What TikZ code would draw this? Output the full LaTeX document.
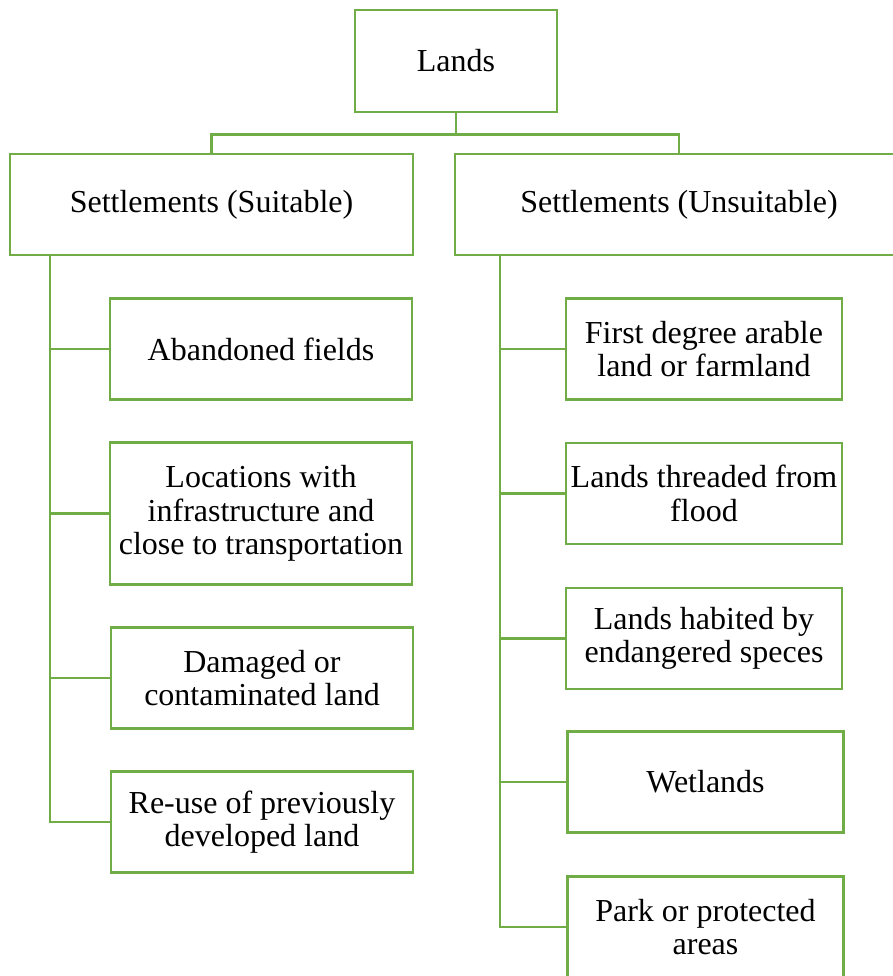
\documentclass[tikz,border=0pt]{standalone}
\usepackage{fontspec}
\setmainfont{Liberation Serif}
\definecolor{leafgreen}{HTML}{70AD47}
\tikzset{
  box/.style={draw=leafgreen,line width=2pt,fill=white,align=center,
    inner sep=0pt,font=\fontsize{24}{25}\selectfont},
  link/.style={draw=leafgreen,line width=2pt}
}
\begin{document}
\begin{tikzpicture}[x=0.75pt,y=-0.75pt]
  \useasboundingbox (0,0) rectangle (893,976);
  \clip (0,0) rectangle (893,976);

  % Top and the two groups
  \node[box,minimum width=151.5pt,minimum height=76.5pt] (lands) at (456,61) {Lands};
  \node[box,minimum width=302.25pt,minimum height=75.75pt] (suit) at (211.5,204.5) {\raisebox{-2pt}{Settlements (Suitable)}};
  \node[box,minimum width=336pt,minimum height=75.75pt] (unsuit) at (679,204.5) {\raisebox{-2pt}{Settlements (Unsuitable)}};

  % Suitable lands
  \node[box,minimum width=226.5pt,minimum height=75.75pt] (aband) at (261,349) {Abandoned fields};
  \node[box,minimum width=226.5pt,minimum height=106.5pt] (infra) at (261,513.5) {Locations with\\infrastructure and\\close to transportation};
  \node[box,minimum width=226.5pt,minimum height=75.75pt] (damaged) at (262,678) {Damaged or\\contaminated land};
  \node[box,minimum width=226.5pt,minimum height=75.75pt] (reuse) at (262,822) {Re-use of previously\\developed land};

  % Unsuitable lands
  \node[box,minimum width=207pt,minimum height=75.75pt] (arable) at (704,349) {First degree arable\\land or farmland};
  \node[box,minimum width=207pt,minimum height=75.75pt] (flood) at (704,493.5) {Lands threaded from\\flood};
  \node[box,minimum width=207pt,minimum height=75.75pt] (species) at (704,638.5) {Lands habited by\\endangered speces};
  \node[box,minimum width=207pt,minimum height=75.75pt] (wet) at (705.5,782) {Wetlands};
  \node[box,minimum width=207pt,minimum height=75.75pt] (park) at (705.5,927) {Park or protected\\areas};

  % Named coordinates for the trunks
  \coordinate (lt) at (50,255);
  \coordinate (rt) at (500,255);

  % Connectors
  \draw[link] (lands.south) -- ++(0,21) -| (suit.north);
  \draw[link] (lands.south) -- ++(0,21) -| (unsuit.north);
  \draw[link] (lt) |- (reuse.west);
  \draw[link] (lt) |- (aband.west) (lt) |- (infra.west) (lt) |- (damaged.west);
  \draw[link] (rt) |- (park.west);
  \draw[link] (rt) |- (arable.west) (rt) |- (flood.west) (rt) |- (species.west) (rt) |- (wet.west);
\end{tikzpicture}
\end{document}
